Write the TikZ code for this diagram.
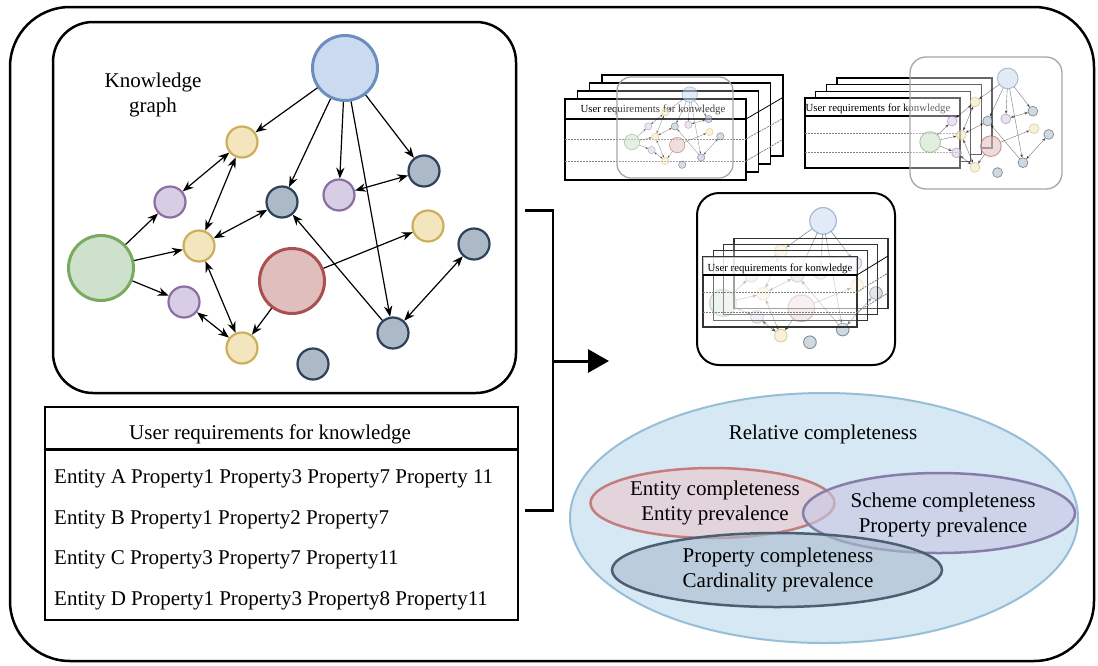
\documentclass[tikz,border=0pt]{standalone}
\usepackage{fontspec}
\setmainfont{Liberation Serif}
\usetikzlibrary{arrows.meta}
\definecolor{kblueF}{RGB}{203,218,238}
\definecolor{kblueD}{RGB}{108,142,191}
\definecolor{kgreenF}{RGB}{205,225,205}
\definecolor{kgreenD}{RGB}{120,170,95}
\definecolor{kredF}{RGB}{225,190,190}
\definecolor{kredD}{RGB}{170,80,80}
\definecolor{kyelF}{RGB}{243,230,190}
\definecolor{kyelD}{RGB}{205,175,90}
\definecolor{kpurF}{RGB}{215,205,228}
\definecolor{kpurD}{RGB}{140,110,165}
\definecolor{knavF}{RGB}{172,186,200}
\definecolor{knavD}{RGB}{45,65,90}
\definecolor{relF}{RGB}{214,232,243}
\definecolor{relD}{RGB}{150,190,215}
\definecolor{entF}{RGB}{232,205,212}
\definecolor{entD}{RGB}{195,125,125}
\definecolor{schF}{RGB}{200,200,228}
\definecolor{schD}{RGB}{135,125,170}
\definecolor{proF}{RGB}{170,188,205}
\definecolor{proD}{RGB}{75,95,115}
\tikzset{
  bigc/.style={circle, minimum size=65, inner sep=0pt},
  smc/.style={circle, minimum size=31, inner sep=0pt},
  cB/.style={fill=kblueF, draw=kblueD},
  cG/.style={fill=kgreenF, draw=kgreenD},
  cR/.style={fill=kredF, draw=kredD},
  cY/.style={fill=kyelF, draw=kyelD},
  cP/.style={fill=kpurF, draw=kpurD},
  cN/.style={fill=knavF, draw=knavD},
  lbl/.style={font=\fontsize{21}{25}\selectfont, inner sep=0pt},
  tlbl/.style={font=\fontsize{10.8}{12}\selectfont, inner sep=0pt},
  pagebox/.style={draw=black, line width=1.3, fill=white},
  dashline/.style={draw=gray, dashed, dash pattern=on 2pt off 1pt, line width=0.8},
}
\newcommand\kgraph[1]{%
  \node[bigc, cB, line width=3*#1] (blue) at (345,68) {};
  \node[bigc, cG, line width=3*#1] (green) at (101,268) {};
  \node[bigc, cR, line width=3*#1] (red) at (292,281) {};
  \node[smc, cY, line width=2.2*#1] (y1) at (242,142) {};
  \node[smc, cP, line width=2.2*#1] (p1) at (170,202) {};
  \node[smc, cY, line width=2.2*#1] (y2) at (199,246) {};
  \node[smc, cP, line width=2.2*#1] (p2) at (184,302) {};
  \node[smc, cY, line width=2.2*#1] (y3) at (242,348) {};
  \node[smc, cN, line width=2.2*#1] (n1) at (282,202) {};
  \node[smc, cP, line width=2.2*#1] (p3) at (339,195) {};
  \node[smc, cN, line width=2.2*#1] (n2) at (424,171) {};
  \node[smc, cY, line width=2.2*#1] (y4) at (428,226) {};
  \node[smc, cN, line width=2.2*#1] (n3) at (474,244) {};
  \node[smc, cN, line width=2.2*#1] (n4) at (393,333) {};
  \node[smc, cN, line width=2.2*#1] (n5) at (313,364) {};
  \begin{scope}[line width=1.2*#1, >={Stealth[length=0pt 9,width=0pt 7]}]
    \draw[->] (blue) -- (y1);
    \draw[->] (blue) -- (n1);
    \draw[->] (blue) -- (p3);
    \draw[->] (blue) -- (n4);
    \draw[->] (blue) -- (n2);
    \draw[<->] (y1) -- (p1);
    \draw[<->] (y1) -- (y2);
    \draw[->] (green) -- (p1);
    \draw[->] (green) -- (y2);
    \draw[->] (green) -- (p2);
    \draw[<->] (y2) -- (n1);
    \draw[<->] (y2) -- (y3);
    \draw[<->] (p2) -- (y3);
    \draw[->] (red) -- (y3);
    \draw[->] (red) -- (y4);
    \draw[->] (n4) -- (n1);
    \draw[<->] (n3) -- (n4);
    \draw[<->] (n2) -- (p3);
  \end{scope}
}
\begin{document}
\begin{tikzpicture}[x=1pt, y=-1pt]
\useasboundingbox (0,0) rectangle (1098,665);
\fill[white] (0,0) rectangle (1098,665);
% outer frame
\draw[line width=2.5, rounded corners=60] (10,7) rectangle (1094,661);
% knowledge graph box
\draw[line width=2.5, rounded corners=40] (53,22) rectangle (516,393);
\node[lbl, align=center] (kgt) at (153,95) {Knowledge\\graph};
\kgraph{1}

% table
\draw[line width=2.5] (45,407) rectangle (518,620);
\draw[line width=3] (45,449) -- (518,449);
\node[lbl, anchor=base] (th) at (270,439) {User requirements for knowledge};
\node[lbl, anchor=base west] (r1) at (54,483) {Entity A Property1 Property3 Property7 Property 11};
\node[lbl, anchor=base west] (r2) at (54,524) {Entity B Property1 Property2 Property7};
\node[lbl, anchor=base west] (r3) at (54,564) {Entity C Property3 Property7 Property11};
\node[lbl, anchor=base west] (r4) at (54,605) {Entity D Property1 Property3 Property8 Property11};

% bracket and arrow
\coordinate (bt) at (525,210.5);
\coordinate (bb) at (525,510.5);
\coordinate (bm) at (553,361);
\coordinate (ah) at (609,361);
\draw[line width=2.5] (bt) -- (553,210.5) -- (553,510.5) -- (bb);
\draw[line width=3, -{Triangle[length=21pt,width=23pt]}] (bm) -- (ah);

% ---- thumbnail 1
\foreach \i in {3,2,1} \draw[pagebox] ({565+12.3*\i},{99-8*\i}) rectangle ++(181,81);
\draw[pagebox] (565,99) rectangle (746,180);
\draw[line width=1.2] (565,119) -- (746,119);
\draw[dashline] (565,139) -- (746,139);
\draw[dashline] (565,161) -- (746,161);
\draw[line width=0.8] (746,119) -- (782,98);
\draw[dashline] (746,139) -- (782,119);
\draw[dashline] (746,161) -- (782,140);
\node[tlbl, anchor=base] (t1) at (653,112.5) {User requirements for konwledge};
\draw[gray!70, line width=1.3, fill=white, fill opacity=0.25, rounded corners=14] (617,77) rectangle (733,178);
\begin{scope}[shift={(608,78.5)}, scale=0.237, transform shape, name prefix=a-, opacity=0.5]
\kgraph{0.237}
\end{scope}

% ---- thumbnail 2
\foreach \i in {3,2,1} \draw[pagebox] ({805+10.7*\i},{98-6.7*\i}) rectangle ++(155,70);
\draw[pagebox] (805,98) rectangle (960,168);
\draw[line width=1.2] (805,116) -- (960,116);
\draw[dashline] (805,133) -- (960,133);
\draw[dashline] (805,152) -- (960,152);
\node[tlbl, anchor=base] (t2) at (878,111) {User requirements for konwledge};
\draw[gray!70, line width=1.3, fill=white, fill opacity=0.4, rounded corners=16] (910,57) rectangle (1062,189);
\begin{scope}[shift={(898,56.8)}, scale=0.318, transform shape, name prefix=b-, opacity=0.55]
\kgraph{0.318}
\end{scope}

% ---- thumbnail 3
\draw[line width=2, fill=white, rounded corners=22] (697,193) rectangle (895,365);
\begin{scope}[shift={(681.6,193)}, scale=0.41, transform shape, name prefix=c-, opacity=0.55]
\kgraph{0.41}
\end{scope}
\foreach \i in {3,2,1} \draw[draw=black!80, line width=1.2, fill=white, fill opacity=0.2] ({703+10.3*\i},{257-6.3*\i}) rectangle ++(154,70);
\draw[draw=black!80, line width=1.3, fill=white, fill opacity=0.3] (703,257) rectangle (857,327);
\fill[white, opacity=0.7] (703,257) rectangle (857,275);
\draw[line width=1.2] (703,275) -- (857,275);
\draw[dashline] (703,292) -- (857,292);
\draw[dashline] (703,312) -- (857,312);
\draw[line width=0.8] (857,275) -- (888,256);
\draw[dashline] (857,292) -- (888,273);
\draw[dashline] (857,312) -- (888,293);
\node[tlbl, anchor=base] (t3) at (780,271.5) {User requirements for konwledge};

% ---- relative completeness
\draw[fill=relF, draw=relD, line width=2] (824,518) ellipse [x radius=254, y radius=125];
\draw[fill=entF, draw=entD, fill opacity=0.75, line width=2.5] (712.5,503) ellipse [x radius=122, y radius=35];
\draw[fill=schF, draw=schD, fill opacity=0.6, line width=2.5] (939,513) ellipse [x radius=136, y radius=40];
\draw[fill=proF, draw=proD, fill opacity=0.6, line width=2.5] (777,570) ellipse [x radius=165, y radius=37];
\node[lbl, anchor=base] (rel) at (823,439) {Relative completeness};
\node[lbl, align=center] (ent) at (715,503) {Entity completeness\\Entity prevalence};
\node[lbl, align=center] (sch) at (943,515) {Scheme completeness\\Property prevalence};
\node[lbl, align=center] (pro) at (778,570) {Property completeness\\Cardinality prevalence};
\end{tikzpicture}
\end{document}
